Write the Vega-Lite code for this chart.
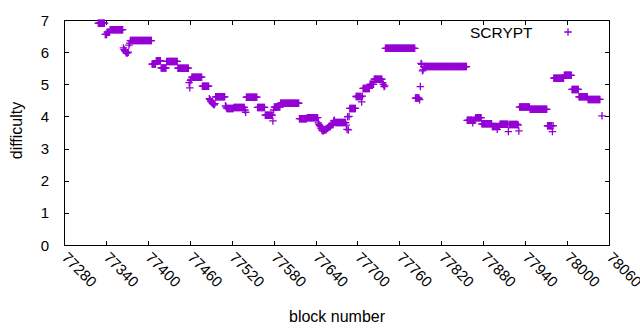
{
"$schema": "https://vega.github.io/schema/vega-lite/v6.json",
"width": 545, "height": 225,
"autosize": {"type": "none"},
"padding": {"left": 64, "top": 20, "right": 31, "bottom": 85},
"background": "white",
"config": {
 "view": {"stroke": "black", "strokeWidth": 1},
 "font": "Liberation Sans",
 "axis": {"grid": false, "domain": false, "labelFont": "Liberation Sans", "labelFontSize": 15, "labelColor": "black", "ticks": true, "tickColor": "black", "tickSize": -4.5, "tickWidth": 1, "titleFont": "Liberation Sans", "titleFontSize": 16, "titleFontWeight": "normal", "titleColor": "black"}
},
"data": {"values": [
{"b":77329,"d":6.9},{"b":77330,"d":6.9},{"b":77331,"d":6.9},{"b":77332,"d":6.9},{"b":77333,"d":6.9},{"b":77334,"d":6.9},{"b":77335,"d":6.9},{"b":77336,"d":6.9},{"b":77337,"d":6.9},{"b":77338,"d":6.9},
{"b":77339,"d":6.55},{"b":77340,"d":6.55},{"b":77341,"d":6.55},{"b":77342,"d":6.62},{"b":77343,"d":6.62},{"b":77344,"d":6.62},{"b":77345,"d":6.62},
{"b":77346,"d":6.7},{"b":77347,"d":6.7},{"b":77348,"d":6.7},{"b":77349,"d":6.7},{"b":77350,"d":6.7},{"b":77351,"d":6.7},{"b":77352,"d":6.7},{"b":77353,"d":6.7},{"b":77354,"d":6.7},{"b":77355,"d":6.7},{"b":77356,"d":6.7},{"b":77357,"d":6.7},{"b":77358,"d":6.7},{"b":77359,"d":6.7},{"b":77360,"d":6.7},{"b":77361,"d":6.7},{"b":77362,"d":6.7},{"b":77363,"d":6.7},{"b":77364,"d":6.7},
{"b":77365,"d":6.13},{"b":77366,"d":6.08},{"b":77367,"d":6.05},{"b":77368,"d":6.02},{"b":77369,"d":5.98},{"b":77370,"d":5.97},{"b":77371,"d":5.98},{"b":77372,"d":6.0},{"b":77373,"d":6.22},{"b":77374,"d":6.28},
{"b":77375,"d":6.36},{"b":77376,"d":6.36},{"b":77377,"d":6.36},{"b":77378,"d":6.36},{"b":77379,"d":6.36},{"b":77380,"d":6.36},{"b":77381,"d":6.36},{"b":77382,"d":6.36},{"b":77383,"d":6.36},{"b":77384,"d":6.36},{"b":77385,"d":6.36},{"b":77386,"d":6.36},{"b":77387,"d":6.36},{"b":77388,"d":6.36},{"b":77389,"d":6.36},{"b":77390,"d":6.36},{"b":77391,"d":6.36},{"b":77392,"d":6.36},{"b":77393,"d":6.36},{"b":77394,"d":6.36},{"b":77395,"d":6.36},{"b":77396,"d":6.36},{"b":77397,"d":6.36},{"b":77398,"d":6.36},{"b":77399,"d":6.36},{"b":77400,"d":6.36},{"b":77401,"d":6.36},{"b":77402,"d":6.36},{"b":77403,"d":6.36},{"b":77404,"d":6.36},{"b":77405,"d":6.36},
{"b":77406,"d":5.63},{"b":77407,"d":5.63},{"b":77408,"d":5.63},{"b":77409,"d":5.63},{"b":77410,"d":5.63},{"b":77411,"d":5.63},
{"b":77412,"d":5.73},{"b":77413,"d":5.73},{"b":77414,"d":5.73},{"b":77415,"d":5.73},{"b":77416,"d":5.73},{"b":77417,"d":5.73},{"b":77418,"d":5.73},
{"b":77419,"d":5.51},{"b":77420,"d":5.51},{"b":77421,"d":5.51},{"b":77422,"d":5.51},{"b":77423,"d":5.51},{"b":77424,"d":5.51},{"b":77425,"d":5.51},{"b":77426,"d":5.51},
{"b":77427,"d":5.71},{"b":77428,"d":5.71},{"b":77429,"d":5.71},{"b":77430,"d":5.71},{"b":77431,"d":5.71},{"b":77432,"d":5.71},{"b":77433,"d":5.71},{"b":77434,"d":5.71},{"b":77435,"d":5.71},{"b":77436,"d":5.71},{"b":77437,"d":5.71},{"b":77438,"d":5.71},{"b":77439,"d":5.71},{"b":77440,"d":5.71},{"b":77441,"d":5.71},{"b":77442,"d":5.71},
{"b":77443,"d":5.5},{"b":77444,"d":5.5},{"b":77445,"d":5.5},{"b":77446,"d":5.5},{"b":77447,"d":5.5},{"b":77448,"d":5.5},{"b":77449,"d":5.5},{"b":77450,"d":5.5},{"b":77451,"d":5.5},{"b":77452,"d":5.5},{"b":77453,"d":5.5},{"b":77454,"d":5.5},{"b":77455,"d":5.5},{"b":77456,"d":5.5},{"b":77457,"d":5.5},{"b":77458,"d":5.5},
{"b":77459,"d":5.05},{"b":77460,"d":4.89},{"b":77461,"d":5.12},{"b":77462,"d":5.15},
{"b":77463,"d":5.22},{"b":77464,"d":5.22},{"b":77465,"d":5.22},{"b":77466,"d":5.22},{"b":77467,"d":5.22},{"b":77468,"d":5.22},{"b":77469,"d":5.22},{"b":77470,"d":5.22},{"b":77471,"d":5.22},{"b":77472,"d":5.22},{"b":77473,"d":5.22},{"b":77474,"d":5.22},{"b":77475,"d":5.22},{"b":77476,"d":5.22},{"b":77477,"d":5.22},
{"b":77478,"d":4.94},{"b":77479,"d":4.94},{"b":77480,"d":4.94},{"b":77481,"d":4.94},{"b":77482,"d":4.94},{"b":77483,"d":4.94},{"b":77484,"d":4.94},{"b":77485,"d":4.94},{"b":77486,"d":4.94},{"b":77487,"d":4.94},
{"b":77488,"d":4.55},{"b":77489,"d":4.52},{"b":77490,"d":4.48},{"b":77491,"d":4.45},{"b":77492,"d":4.42},{"b":77493,"d":4.4},{"b":77494,"d":4.38},{"b":77495,"d":4.36},{"b":77496,"d":4.4},
{"b":77497,"d":4.61},{"b":77498,"d":4.61},{"b":77499,"d":4.61},{"b":77500,"d":4.61},{"b":77501,"d":4.61},{"b":77502,"d":4.61},{"b":77503,"d":4.61},{"b":77504,"d":4.61},{"b":77505,"d":4.61},{"b":77506,"d":4.61},{"b":77507,"d":4.61},{"b":77508,"d":4.61},{"b":77509,"d":4.61},{"b":77510,"d":4.61},
{"b":77511,"d":4.33},{"b":77512,"d":4.3},
{"b":77513,"d":4.25},{"b":77514,"d":4.25},{"b":77515,"d":4.25},{"b":77516,"d":4.25},{"b":77517,"d":4.25},{"b":77518,"d":4.25},{"b":77519,"d":4.25},{"b":77520,"d":4.25},{"b":77521,"d":4.25},{"b":77522,"d":4.25},
{"b":77523,"d":4.28},{"b":77524,"d":4.28},{"b":77525,"d":4.28},{"b":77526,"d":4.28},{"b":77527,"d":4.28},{"b":77528,"d":4.28},{"b":77529,"d":4.28},{"b":77530,"d":4.28},{"b":77531,"d":4.28},{"b":77532,"d":4.28},{"b":77533,"d":4.28},{"b":77534,"d":4.28},{"b":77535,"d":4.28},{"b":77536,"d":4.28},{"b":77537,"d":4.28},{"b":77538,"d":4.28},
{"b":77539,"d":4.2},{"b":77540,"d":4.13},
{"b":77541,"d":4.6},{"b":77542,"d":4.6},{"b":77543,"d":4.6},{"b":77544,"d":4.6},{"b":77545,"d":4.6},{"b":77546,"d":4.6},{"b":77547,"d":4.6},{"b":77548,"d":4.6},{"b":77549,"d":4.6},{"b":77550,"d":4.6},{"b":77551,"d":4.6},{"b":77552,"d":4.6},{"b":77553,"d":4.6},{"b":77554,"d":4.6},{"b":77555,"d":4.6},{"b":77556,"d":4.6},
{"b":77557,"d":4.28},{"b":77558,"d":4.28},{"b":77559,"d":4.28},{"b":77560,"d":4.28},{"b":77561,"d":4.28},{"b":77562,"d":4.28},{"b":77563,"d":4.28},{"b":77564,"d":4.28},{"b":77565,"d":4.28},{"b":77566,"d":4.28},{"b":77567,"d":4.28},
{"b":77568,"d":4.04},{"b":77569,"d":4.04},{"b":77570,"d":4.04},{"b":77571,"d":4.04},{"b":77572,"d":4.04},{"b":77573,"d":4.04},{"b":77574,"d":4.04},{"b":77575,"d":4.04},{"b":77576,"d":4.04},{"b":77577,"d":4.04},{"b":77578,"d":4.04},
{"b":77579,"d":3.86},{"b":77580,"d":4.2},
{"b":77581,"d":4.29},{"b":77582,"d":4.29},{"b":77583,"d":4.29},{"b":77584,"d":4.29},{"b":77585,"d":4.29},{"b":77586,"d":4.29},{"b":77587,"d":4.29},{"b":77588,"d":4.29},{"b":77589,"d":4.29},
{"b":77590,"d":4.41},{"b":77591,"d":4.41},{"b":77592,"d":4.41},{"b":77593,"d":4.41},{"b":77594,"d":4.41},{"b":77595,"d":4.41},{"b":77596,"d":4.41},{"b":77597,"d":4.41},{"b":77598,"d":4.41},{"b":77599,"d":4.41},{"b":77600,"d":4.41},{"b":77601,"d":4.41},{"b":77602,"d":4.41},{"b":77603,"d":4.41},{"b":77604,"d":4.41},{"b":77605,"d":4.41},{"b":77606,"d":4.41},{"b":77607,"d":4.41},{"b":77608,"d":4.41},{"b":77609,"d":4.41},{"b":77610,"d":4.41},{"b":77611,"d":4.41},{"b":77612,"d":4.41},{"b":77613,"d":4.41},{"b":77614,"d":4.41},{"b":77615,"d":4.41},{"b":77616,"d":4.41},
{"b":77617,"d":3.93},{"b":77618,"d":3.93},{"b":77619,"d":3.93},{"b":77620,"d":3.93},{"b":77621,"d":3.93},{"b":77622,"d":3.93},{"b":77623,"d":3.93},{"b":77624,"d":3.93},{"b":77625,"d":3.93},{"b":77626,"d":3.93},{"b":77627,"d":3.93},
{"b":77628,"d":3.96},{"b":77629,"d":3.96},{"b":77630,"d":3.96},{"b":77631,"d":3.96},{"b":77632,"d":3.96},{"b":77633,"d":3.96},{"b":77634,"d":3.96},{"b":77635,"d":3.96},{"b":77636,"d":3.96},{"b":77637,"d":3.96},{"b":77638,"d":3.96},{"b":77639,"d":3.96},{"b":77640,"d":3.96},{"b":77641,"d":3.96},{"b":77642,"d":3.96},{"b":77643,"d":3.96},
{"b":77644,"d":3.8},{"b":77645,"d":3.75},{"b":77646,"d":3.72},{"b":77647,"d":3.68},{"b":77648,"d":3.63},{"b":77649,"d":3.58},{"b":77650,"d":3.56},{"b":77651,"d":3.55},{"b":77652,"d":3.57},{"b":77653,"d":3.58},{"b":77654,"d":3.6},{"b":77655,"d":3.58},{"b":77656,"d":3.62},{"b":77657,"d":3.63},{"b":77658,"d":3.65},{"b":77659,"d":3.68},{"b":77660,"d":3.7},{"b":77661,"d":3.68},{"b":77662,"d":3.72},{"b":77663,"d":3.75},{"b":77664,"d":3.76},{"b":77665,"d":3.74},{"b":77666,"d":3.86},{"b":77667,"d":3.88},
{"b":77668,"d":3.81},{"b":77669,"d":3.81},{"b":77670,"d":3.81},{"b":77671,"d":3.81},{"b":77672,"d":3.81},{"b":77673,"d":3.81},{"b":77674,"d":3.81},{"b":77675,"d":3.81},{"b":77676,"d":3.81},{"b":77677,"d":3.81},{"b":77678,"d":3.81},{"b":77679,"d":3.81},{"b":77680,"d":3.81},{"b":77681,"d":3.81},{"b":77682,"d":3.81},{"b":77683,"d":3.81},
{"b":77684,"d":3.73},{"b":77685,"d":3.6},{"b":77686,"d":3.99},{"b":77687,"d":3.58},{"b":77688,"d":4.0},
{"b":77689,"d":4.25},{"b":77690,"d":4.25},{"b":77691,"d":4.25},{"b":77692,"d":4.25},{"b":77693,"d":4.25},{"b":77694,"d":4.25},{"b":77695,"d":4.25},{"b":77696,"d":4.25},{"b":77697,"d":4.25},
{"b":77698,"d":4.62},{"b":77699,"d":4.62},{"b":77700,"d":4.62},{"b":77701,"d":4.62},{"b":77702,"d":4.62},{"b":77703,"d":4.62},{"b":77704,"d":4.62},{"b":77705,"d":4.62},{"b":77706,"d":4.45},{"b":77707,"d":4.63},
{"b":77708,"d":4.87},{"b":77709,"d":4.87},{"b":77710,"d":4.87},{"b":77711,"d":4.87},{"b":77712,"d":4.87},{"b":77713,"d":4.87},{"b":77714,"d":4.87},{"b":77715,"d":4.87},{"b":77716,"d":4.87},{"b":77717,"d":4.87},
{"b":77718,"d":5.0},{"b":77719,"d":5.0},{"b":77720,"d":5.0},{"b":77721,"d":5.0},{"b":77722,"d":5.0},{"b":77723,"d":5.0},
{"b":77724,"d":5.16},{"b":77725,"d":5.16},{"b":77726,"d":5.16},{"b":77727,"d":5.16},{"b":77728,"d":5.16},{"b":77729,"d":5.16},{"b":77730,"d":5.16},{"b":77731,"d":5.16},{"b":77732,"d":5.16},{"b":77733,"d":5.16},{"b":77734,"d":5.16},{"b":77735,"d":5.16},
{"b":77736,"d":5.05},{"b":77737,"d":5.0},{"b":77738,"d":4.93},{"b":77739,"d":4.95},
{"b":77740,"d":6.12},{"b":77741,"d":6.12},{"b":77742,"d":6.12},{"b":77743,"d":6.12},{"b":77744,"d":6.12},{"b":77745,"d":6.12},{"b":77746,"d":6.12},{"b":77747,"d":6.12},{"b":77748,"d":6.12},{"b":77749,"d":6.12},{"b":77750,"d":6.12},{"b":77751,"d":6.12},{"b":77752,"d":6.12},{"b":77753,"d":6.12},{"b":77754,"d":6.12},{"b":77755,"d":6.12},{"b":77756,"d":6.12},{"b":77757,"d":6.12},{"b":77758,"d":6.12},{"b":77759,"d":6.12},{"b":77760,"d":6.12},{"b":77761,"d":6.12},{"b":77762,"d":6.12},{"b":77763,"d":6.12},{"b":77764,"d":6.12},{"b":77765,"d":6.12},{"b":77766,"d":6.12},{"b":77767,"d":6.12},{"b":77768,"d":6.12},{"b":77769,"d":6.12},{"b":77770,"d":6.12},{"b":77771,"d":6.12},{"b":77772,"d":6.12},{"b":77773,"d":6.12},{"b":77774,"d":6.12},{"b":77775,"d":6.12},{"b":77776,"d":6.12},{"b":77777,"d":6.12},{"b":77778,"d":6.12},{"b":77779,"d":6.12},{"b":77780,"d":6.12},{"b":77781,"d":6.12},{"b":77782,"d":6.12},
{"b":77783,"d":4.57},{"b":77784,"d":4.57},{"b":77785,"d":4.57},{"b":77786,"d":4.57},{"b":77787,"d":4.57},{"b":77788,"d":4.57},{"b":77789,"d":4.52},{"b":77790,"d":4.93},{"b":77791,"d":5.65},{"b":77792,"d":5.62},{"b":77793,"d":5.42},{"b":77794,"d":5.45},
{"b":77795,"d":5.55},{"b":77796,"d":5.55},{"b":77797,"d":5.55},{"b":77798,"d":5.55},{"b":77799,"d":5.55},{"b":77800,"d":5.55},{"b":77801,"d":5.55},{"b":77802,"d":5.55},{"b":77803,"d":5.55},{"b":77804,"d":5.55},{"b":77805,"d":5.55},{"b":77806,"d":5.55},{"b":77807,"d":5.55},{"b":77808,"d":5.55},{"b":77809,"d":5.55},{"b":77810,"d":5.55},{"b":77811,"d":5.55},{"b":77812,"d":5.55},{"b":77813,"d":5.55},{"b":77814,"d":5.55},{"b":77815,"d":5.55},{"b":77816,"d":5.55},{"b":77817,"d":5.55},{"b":77818,"d":5.55},{"b":77819,"d":5.55},{"b":77820,"d":5.55},{"b":77821,"d":5.55},{"b":77822,"d":5.55},{"b":77823,"d":5.55},{"b":77824,"d":5.55},{"b":77825,"d":5.55},{"b":77826,"d":5.55},{"b":77827,"d":5.55},{"b":77828,"d":5.55},{"b":77829,"d":5.55},{"b":77830,"d":5.55},{"b":77831,"d":5.55},{"b":77832,"d":5.55},{"b":77833,"d":5.55},{"b":77834,"d":5.55},{"b":77835,"d":5.55},{"b":77836,"d":5.55},{"b":77837,"d":5.55},{"b":77838,"d":5.55},{"b":77839,"d":5.55},{"b":77840,"d":5.55},{"b":77841,"d":5.55},{"b":77842,"d":5.55},{"b":77843,"d":5.55},{"b":77844,"d":5.55},{"b":77845,"d":5.55},{"b":77846,"d":5.55},{"b":77847,"d":5.55},{"b":77848,"d":5.55},{"b":77849,"d":5.55},{"b":77850,"d":5.55},{"b":77851,"d":5.55},{"b":77852,"d":5.55},{"b":77853,"d":5.55},{"b":77854,"d":5.55},{"b":77855,"d":5.55},{"b":77856,"d":5.55},
{"b":77857,"d":3.88},{"b":77858,"d":3.88},{"b":77859,"d":3.88},{"b":77860,"d":3.88},{"b":77861,"d":3.88},{"b":77862,"d":3.88},{"b":77863,"d":3.88},{"b":77864,"d":3.88},{"b":77865,"d":3.8},{"b":77866,"d":3.88},{"b":77867,"d":3.88},{"b":77868,"d":3.88},
{"b":77869,"d":3.96},{"b":77870,"d":3.96},{"b":77871,"d":3.96},{"b":77872,"d":3.96},{"b":77873,"d":3.96},{"b":77874,"d":3.96},{"b":77875,"d":3.96},{"b":77876,"d":3.96},{"b":77877,"d":3.96},
{"b":77878,"d":3.77},{"b":77879,"d":3.77},{"b":77880,"d":3.77},{"b":77881,"d":3.77},{"b":77882,"d":3.77},{"b":77883,"d":3.77},{"b":77884,"d":3.77},{"b":77885,"d":3.77},{"b":77886,"d":3.77},{"b":77887,"d":3.77},{"b":77888,"d":3.77},{"b":77889,"d":3.77},{"b":77890,"d":3.77},{"b":77891,"d":3.77},{"b":77892,"d":3.77},
{"b":77893,"d":3.69},{"b":77894,"d":3.69},{"b":77895,"d":3.69},{"b":77896,"d":3.69},{"b":77897,"d":3.69},{"b":77898,"d":3.69},{"b":77899,"d":3.69},{"b":77900,"d":3.6},{"b":77901,"d":3.69},{"b":77902,"d":3.69},{"b":77903,"d":3.69},
{"b":77904,"d":3.76},{"b":77905,"d":3.76},{"b":77906,"d":3.76},{"b":77907,"d":3.76},{"b":77908,"d":3.76},{"b":77909,"d":3.76},{"b":77910,"d":3.76},{"b":77911,"d":3.76},{"b":77912,"d":3.76},{"b":77913,"d":3.76},{"b":77914,"d":3.76},{"b":77915,"d":3.76},
{"b":77916,"d":3.53},
{"b":77917,"d":3.75},{"b":77918,"d":3.75},{"b":77919,"d":3.75},{"b":77920,"d":3.75},{"b":77921,"d":3.75},{"b":77922,"d":3.75},{"b":77923,"d":3.75},{"b":77924,"d":3.75},{"b":77925,"d":3.75},{"b":77926,"d":3.75},{"b":77927,"d":3.75},{"b":77928,"d":3.75},{"b":77929,"d":3.75},
{"b":77930,"d":3.73},{"b":77931,"d":3.55},{"b":77932,"d":4.29},
{"b":77933,"d":4.29},{"b":77934,"d":4.29},{"b":77935,"d":4.29},{"b":77936,"d":4.29},{"b":77937,"d":4.29},{"b":77938,"d":4.29},{"b":77939,"d":4.29},{"b":77940,"d":4.29},{"b":77941,"d":4.29},{"b":77942,"d":4.29},{"b":77943,"d":4.29},{"b":77944,"d":4.29},{"b":77945,"d":4.29},{"b":77946,"d":4.29},
{"b":77947,"d":4.22},{"b":77948,"d":4.22},{"b":77949,"d":4.22},{"b":77950,"d":4.22},{"b":77951,"d":4.22},{"b":77952,"d":4.22},{"b":77953,"d":4.22},{"b":77954,"d":4.22},{"b":77955,"d":4.22},{"b":77956,"d":4.22},{"b":77957,"d":4.22},{"b":77958,"d":4.22},{"b":77959,"d":4.22},{"b":77960,"d":4.22},{"b":77961,"d":4.22},{"b":77962,"d":4.22},{"b":77963,"d":4.22},{"b":77964,"d":4.22},{"b":77965,"d":4.22},{"b":77966,"d":4.22},{"b":77967,"d":4.22},{"b":77968,"d":4.22},{"b":77969,"d":4.22},{"b":77970,"d":4.22},{"b":77971,"d":4.22},
{"b":77972,"d":3.71},{"b":77973,"d":3.71},{"b":77974,"d":3.71},{"b":77975,"d":3.71},{"b":77976,"d":3.71},{"b":77977,"d":3.71},{"b":77978,"d":3.71},{"b":77979,"d":3.53},{"b":77980,"d":3.71},
{"b":77981,"d":5.19},{"b":77982,"d":5.19},{"b":77983,"d":5.19},{"b":77984,"d":5.19},{"b":77985,"d":5.19},{"b":77986,"d":5.19},{"b":77987,"d":5.19},{"b":77988,"d":5.19},{"b":77989,"d":5.19},{"b":77990,"d":5.19},{"b":77991,"d":5.19},{"b":77992,"d":5.19},{"b":77993,"d":5.19},{"b":77994,"d":5.19},{"b":77995,"d":5.19},
{"b":77996,"d":5.28},{"b":77997,"d":5.28},{"b":77998,"d":5.28},{"b":77999,"d":5.28},{"b":78000,"d":5.28},{"b":78001,"d":5.28},{"b":78002,"d":5.28},{"b":78003,"d":5.28},{"b":78004,"d":5.28},{"b":78005,"d":5.28},{"b":78006,"d":5.28},
{"b":78007,"d":4.84},{"b":78008,"d":4.84},{"b":78009,"d":4.84},{"b":78010,"d":4.84},{"b":78011,"d":4.84},{"b":78012,"d":4.84},{"b":78013,"d":4.84},{"b":78014,"d":4.84},{"b":78015,"d":4.84},{"b":78016,"d":4.84},
{"b":78017,"d":4.61},{"b":78018,"d":4.61},{"b":78019,"d":4.61},{"b":78020,"d":4.61},{"b":78021,"d":4.61},{"b":78022,"d":4.61},{"b":78023,"d":4.61},{"b":78024,"d":4.61},{"b":78025,"d":4.61},{"b":78026,"d":4.61},{"b":78027,"d":4.61},{"b":78028,"d":4.61},{"b":78029,"d":4.61},
{"b":78030,"d":4.53},{"b":78031,"d":4.53},{"b":78032,"d":4.53},{"b":78033,"d":4.53},{"b":78034,"d":4.53},{"b":78035,"d":4.53},{"b":78036,"d":4.53},{"b":78037,"d":4.53},{"b":78038,"d":4.53},{"b":78039,"d":4.53},{"b":78040,"d":4.53},{"b":78041,"d":4.53},{"b":78042,"d":4.53},{"b":78043,"d":4.53},{"b":78044,"d":4.53},{"b":78045,"d":4.53},{"b":78046,"d":4.53},{"b":78047,"d":4.53},
{"b":78050,"d":4.02}
]},
"layer": [
 {"mark": {"type": "point", "shape": "M-1,0L1,0M0,-1L0,1", "filled": false, "opacity": 1, "strokeWidth": 1.3, "size": 56},
  "encoding": {
   "x": {"field": "b", "type": "quantitative", "scale": {"domain": [77280, 78060], "nice": false, "zero": false},
         "axis": {"orient": "bottom", "values": [77280,77340,77400,77460,77520,77580,77640,77700,77760,77820,77880,77940,78000,78060], "format": "d", "labelAngle": 45, "labelAlign": "left", "labelBaseline": "middle", "labelPadding": 14, "labelOverlap": false, "labelFlush": false, "labelBound": false, "title": "block number", "titleY": 76, "titleBaseline": "alphabetic"}},
   "y": {"field": "d", "type": "quantitative", "scale": {"domain": [0, 7], "nice": false, "zero": true},
         "axis": {"orient": "left", "values": [0,1,2,3,4,5,6,7], "format": "d", "labelPadding": 20, "labelBaseline": "middle", "title": "difficulty", "titleX": -43, "titleY": 110, "titleBaseline": "alphabetic", "titleAlign": "center", "titleAngle": -90}},
   "color": {"datum": "SCRYPT", "type": "nominal", "scale": {"range": ["#9400d3"]},
             "legend": {"orient": "none", "legendX": 406, "legendY": 7, "title": "SCRYPT", "titleOrient": "left", "titlePadding": 30, "titleFont": "Liberation Sans", "titleFontSize": 15.5, "titleFontWeight": "normal", "titleColor": "black", "titleBaseline": "middle", "labelExpr": "''", "symbolType": "M-1,0L1,0M0,-1L0,1", "symbolSize": 56, "symbolStrokeWidth": 1.3, "symbolStrokeColor": "#9400d3", "symbolFillColor": "transparent", "padding": 0}}
  }},
 {"mark": {"type": "point", "opacity": 0},
  "encoding": {
   "x": {"field": "b", "type": "quantitative", "axis": {"orient": "top", "values": [77280,77340,77400,77460,77520,77580,77640,77700,77760,77820,77880,77940,78000,78060], "labels": false, "title": null}},
   "y": {"field": "d", "type": "quantitative", "axis": {"orient": "right", "values": [0,1,2,3,4,5,6,7], "labels": false, "title": null}}
  }}
],
"resolve": {"axis": {"x": "independent", "y": "independent"}}
}
